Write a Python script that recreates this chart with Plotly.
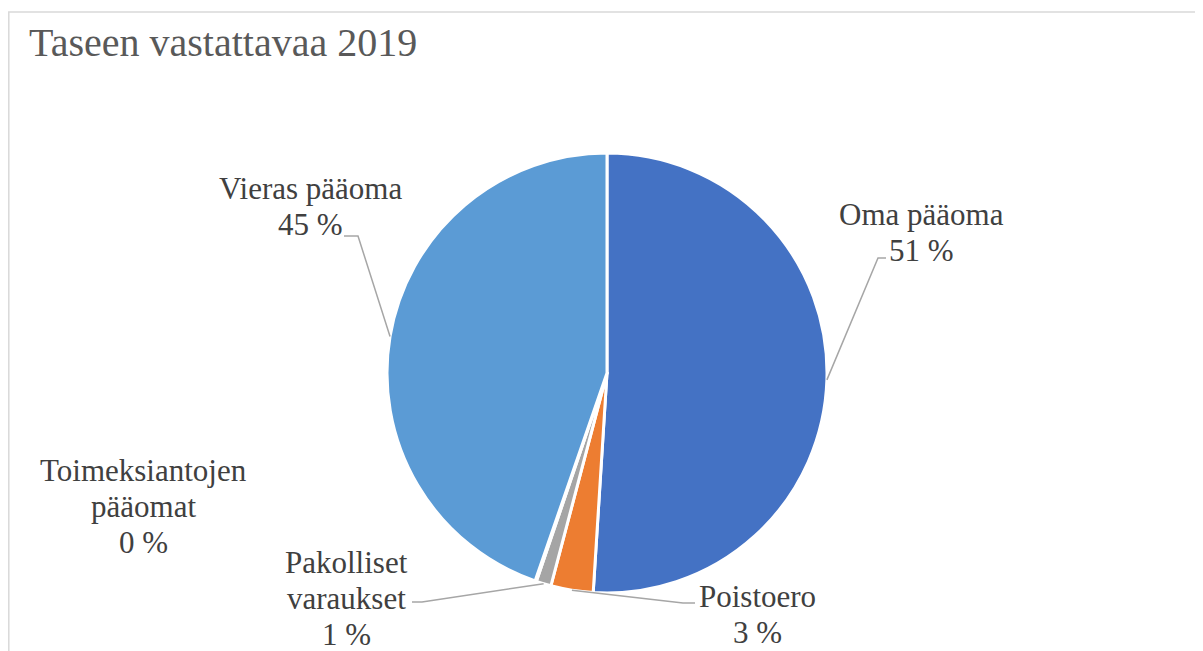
import math
import plotly.graph_objects as go

W, H = 1203, 651
OFF = 8  # page body margin shifts the figure by this many px

labels = ['Oma pääoma', 'Poistoero', 'Pakolliset<br>varaukset', 'Toimeksiantojen<br>pääomat', 'Vieras pääoma']
values = [51.0, 3.1, 1.1, 0.1, 44.7]
colors = ['#4472C4', '#ED7D31', '#A5A5A5', '#FFC000', '#5B9BD5']

# label centre (px) and leader elbow/end (px), None = no leader line
label_pos = [(921, 232), (757, 614), (346, 598), (143, 506), (310, 207)]
elbows = [((878, 258), (886, 258)), ((683, 603), (695, 603)), ((422, 602), (412, 602)),
          None, ((358, 236), (344, 236))]

cx, cy, r = 607, 373, 220
LINE = 36


def px(x, y):
    return (x - OFF) / W, 1 - (y - OFF) / H


x0, y0 = px(cx - r, cy - r)
x1, y1 = px(cx + r, cy + r)

fig = go.Figure(go.Pie(
    labels=[l.replace('<br>', ' ') for l in labels],
    values=values,
    sort=False,
    direction='clockwise',
    rotation=0,
    marker=dict(colors=colors, line=dict(color='white', width=3)),
    textinfo='none',
    domain=dict(x=[x0, x1], y=[y1, y0]),
    showlegend=False,
))

shapes = []
annotations = []
total = sum(values)
cum = 0
for i, v in enumerate(values):
    mid = (cum + v / 2) / total * 2 * math.pi
    cum += v
    ex, ey = cx + r * math.sin(mid), cy - r * math.cos(mid)
    if elbows[i]:
        (bx, by), (qx, qy) = elbows[i]
        pts = [px(ex, ey), px(bx, by), px(qx, qy)]
        path = 'M {} {} L {} {} L {} {}'.format(*[c for p in pts for c in p])
        shapes.append(dict(type='path', xref='paper', yref='paper', path=path,
                           line=dict(color='#A6A6A6', width=1.5)))
    lines = labels[i].split('<br>') + ['{} %'.format(round(v))]
    lx, ly = label_pos[i]
    n = len(lines)
    for k, t in enumerate(lines):
        ax, ay = px(lx, ly + (k - (n - 1) / 2) * LINE)
        annotations.append(dict(x=ax, y=ay, xref='paper', yref='paper', showarrow=False,
                                text=t, xanchor='center', yanchor='middle',
                                font=dict(family='Liberation Serif', size=31, color='#404040')))

tx, ty = px(27, 18)
annotations.append(dict(x=tx, y=ty, xref='paper', yref='paper', showarrow=False,
                        text='Taseen vastattavaa 2019', xanchor='left', yanchor='top',
                        font=dict(family='Liberation Serif', size=40, color='#595959')))

# chart area border
bx0, by0 = px(8.8, 12)
shapes.append(dict(type='path', xref='paper', yref='paper',
                   path='M {} 0 L {} {} L 1.01 {}'.format(bx0, bx0, by0, by0),
                   line=dict(color='#D9D9D9', width=1.5)))

fig.update_layout(
    width=W, height=H,
    margin=dict(l=0, r=0, t=0, b=0),
    paper_bgcolor='white',
    plot_bgcolor='white',
    shapes=shapes,
    annotations=annotations,
)

fig.write_html('out.html')
